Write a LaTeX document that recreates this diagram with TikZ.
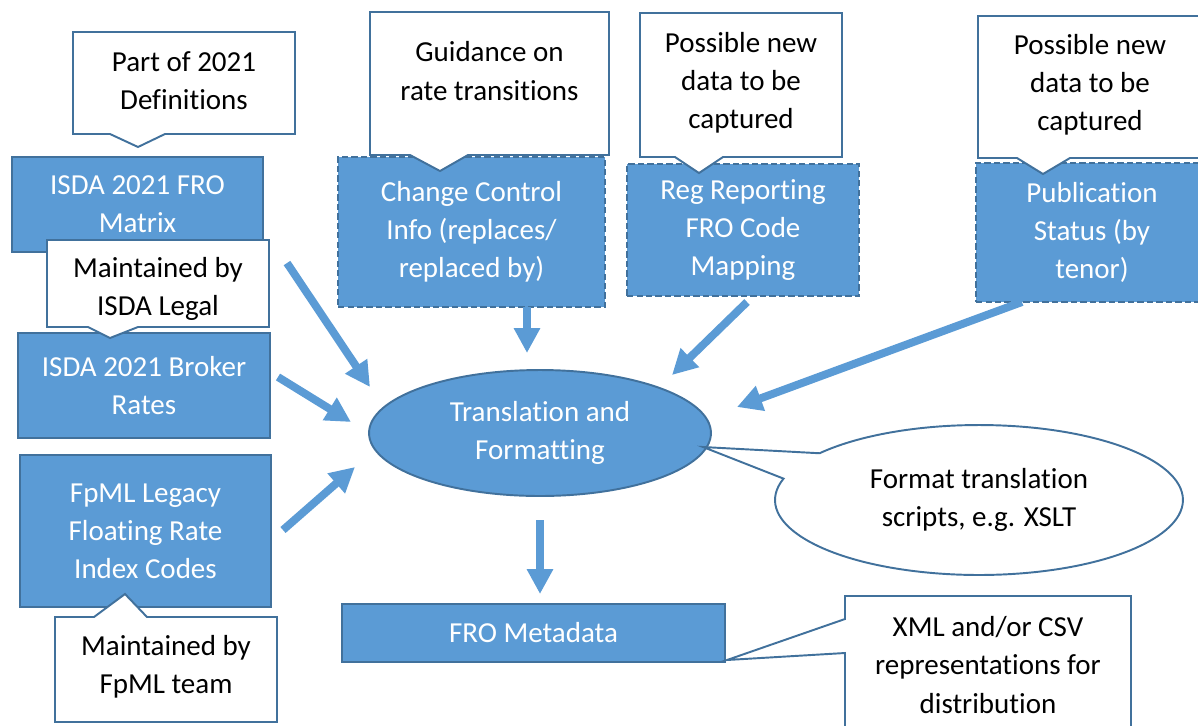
\documentclass[tikz,border=0pt]{standalone}
\usepackage{fontspec}
\setmainfont{Carlito}[Ligatures=NoCommon]
\usetikzlibrary{shapes.geometric,shapes.callouts,arrows.meta}
\definecolor{fillblue}{HTML}{5B9BD5}
\definecolor{edgeblue}{HTML}{41719C}

\begin{document}
\begin{tikzpicture}[x=0.02cm,y=-0.02cm,
  txt/.style={font=\fontsize{16.5}{21.7}\selectfont, align=center, inner sep=0pt},
  box/.style={txt, draw=edgeblue, line width=1.1pt, fill=fillblue, text=white},
  dbox/.style={box, line width=1.4pt, dash pattern=on 3.6pt off 1.8pt},
  note/.style={draw=edgeblue, line width=1.1pt, fill=white, line join=miter},
  arr/.style={draw=fillblue, line width=4.5pt, -{Triangle[length=0.5cm,width=0.5cm]}}]
\useasboundingbox (0,0) rectangle (1198,725);
\clip (0,0) rectangle (1198,725);

% input boxes on the left
\node[box, minimum width=5.02cm, minimum height=1.9cm] (frommatrix) at (137.5,204.5) {ISDA 2021 FRO\\Matrix};
\node[box, minimum width=5.04cm, minimum height=2.1cm] (broker) at (144,385.5) {ISDA 2021 Broker\\Rates};
\node[box, minimum width=5.02cm, minimum height=3.04cm] (legacy) at (145.5,531) {FpML Legacy\\Floating Rate\\Index Codes};

% dashed boxes on top
\node[dbox, minimum width=5.34cm, minimum height=3cm] (change) at (471.5,232) {Change Control\\Info (replaces/\\replaced by)};
\node[dbox, minimum width=4.64cm, minimum height=2.64cm] (regrep) at (743,230) {Reg Reporting\\FRO Code\\Mapping};
\node[dbox, minimum width=4.64cm, minimum height=2.78cm] (pubstatus) at (1092,232.5) {Publication\\Status (by\\tenor)};

% middle and output
\node[box, ellipse, minimum width=6.84cm, minimum height=2.52cm] (trans) at (540,433) {Translation and\\Formatting};
\node[box, minimum width=7.66cm, minimum height=1.16cm] (meta) at (533.5,633) {FRO Metadata};

% arrow ends
\coordinate (a1) at (287,263);   \coordinate (b1) at (370,387);
\coordinate (a2) at (278,377);   \coordinate (b2) at (351,422);
\coordinate (a3) at (283,530);   \coordinate (b3) at (355,467);
\coordinate (a4) at (527,307);   \coordinate (b4) at (527,353);
\coordinate (a5) at (747,302);   \coordinate (b5) at (672,375);
\coordinate (a6) at (1022,302);  \coordinate (b6) at (737,407);
\coordinate (a7) at (540,520);   \coordinate (b7) at (540,594);
\foreach \i in {1,...,7}
  \draw[arr] (a\i) -- (b\i);

% callouts
\draw[note] (73,32) -- (295,32) -- (295,134) -- (165,134) -- (138,147) -- (110,134) -- (73,134) -- cycle;
\node[txt] (defs) at (184,81) {Part of 2021\\Definitions};

\draw[note] (47,240) -- (269,240) -- (269,327) -- (138,327) -- (110,338) -- (88,327) -- (47,327) -- cycle;
\node[txt] (legal) at (158,289) {Maintained by\\ISDA Legal};

\draw[note] (55,617) -- (94,617) -- (125,594) -- (147,617) -- (277,617) -- (277,722) -- (55,722) -- cycle;
\node[txt] (fpmlteam) at (166,667) {Maintained by\\FpML team};

\draw[note] (370,12) -- (609,12) -- (609,155) -- (468,155) -- (440,171) -- (410,155) -- (370,155) -- cycle;
\node[txt] (guide) at (489.5,71) {Guidance on\\rate transitions};

\draw[note] (640,13) -- (842,13) -- (842,157) -- (723,157) -- (699,173) -- (675,157) -- (640,157) -- cycle;
\node[txt] (newdata) at (741,83) {Possible new\\data to be\\captured};

\draw[note] (978,16) -- (1205,16) -- (1205,158) -- (1070,158) -- (1043,174) -- (1017,158) -- (978,158) -- cycle;
\node[txt] (newdatab) at (1090,85) {Possible new\\data to be\\captured};

\node[txt, note, ellipse callout, minimum width=8.16cm, minimum height=3cm,
  callout absolute pointer={(703,447)}, callout pointer arc=22] (xslt) at (979,500) {Format translation\\scripts, e.g. XSLT};

\draw[note] (845,596) -- (1131,596) -- (1131,745) -- (845,745) -- (845,653) -- (727,660) -- (845,619) -- cycle;
\node[txt] (xml) at (988,665) {XML and/or CSV\\representations for\\distribution};
\end{tikzpicture}
\end{document}
